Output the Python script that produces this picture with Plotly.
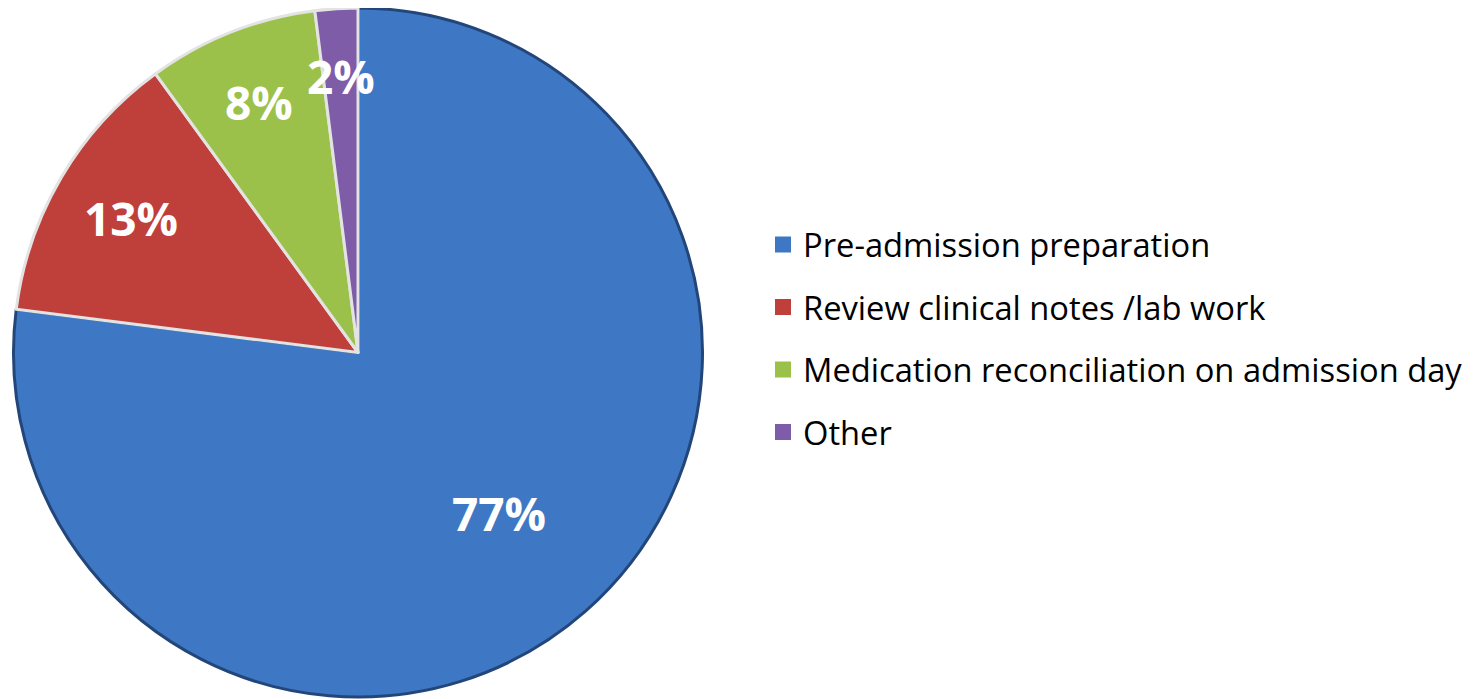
import math
import plotly.graph_objects as go

categories = ["Pre-admission preparation", "Review clinical notes /lab work",
              "Medication reconciliation on admission day", "Other"]
values = [77, 13, 8, 2]
colors = ["#3E78C5", "#BF3F3A", "#9CC14B", "#7E5CA8"]
edge_colors = ["#23467A", "#E3E3E3", "#E3E3E3", "#E3E3E3"]

W, H = 1477, 699
dom_x = [5.5 / W, 694.5 / W]
dom_y = [10 / H, 1.0]

fig = go.Figure()

fig.add_trace(go.Pie(
    labels=categories,
    values=values,
    sort=False,
    direction="clockwise",
    rotation=0,
    marker=dict(colors=colors, line=dict(color=edge_colors, width=3)),
    textinfo="none",
    domain=dict(x=dom_x, y=dom_y),
    showlegend=False,
    hoverinfo="label+percent",
))

# percentage labels placed along each slice's mid-angle
total = sum(values)
cx = (dom_x[0] + dom_x[1]) / 2
cy = (dom_y[0] + dom_y[1]) / 2
R = min((dom_x[1] - dom_x[0]) * W, (dom_y[1] - dom_y[0]) * H) / 2
cum = 0
for v in values:
    share = v / total
    mid = (cum + v / 2) / total * 2 * math.pi
    cum += v
    frac = 0.62 if share >= 0.5 else 0.74 + 0.35 * (0.2 - share)
    r = R * frac
    fig.add_annotation(
        x=cx + r * math.sin(mid) / W,
        y=cy + r * math.cos(mid) / H,
        xref="paper", yref="paper",
        text="%d%%" % round(100 * share),
        showarrow=False,
        xanchor="center", yanchor="middle",
        font=dict(family="Open Sans", size=46, color="white", weight="bold"),
    )

for i, (lab, col) in enumerate(zip(categories, colors)):
    fig.add_trace(go.Scatter(
        x=[None], y=[None], mode="markers", name=lab,
        legendgroup="g%d" % i,
        marker=dict(symbol="square", size=20, color=col),
    ))

fig.update_layout(
    width=W, height=H,
    margin=dict(l=0, r=0, t=0, b=0),
    paper_bgcolor="white",
    plot_bgcolor="white",
    xaxis=dict(visible=False),
    yaxis=dict(visible=False),
    legend=dict(
        x=755 / W, xanchor="left",
        y=0.527, yanchor="middle",
        font=dict(family="Open Sans", size=32.7, color="black"),
        traceorder="grouped",
        tracegroupgap=17,
        bgcolor="rgba(0,0,0,0)",
    ),
)

fig.write_html("out.html")
